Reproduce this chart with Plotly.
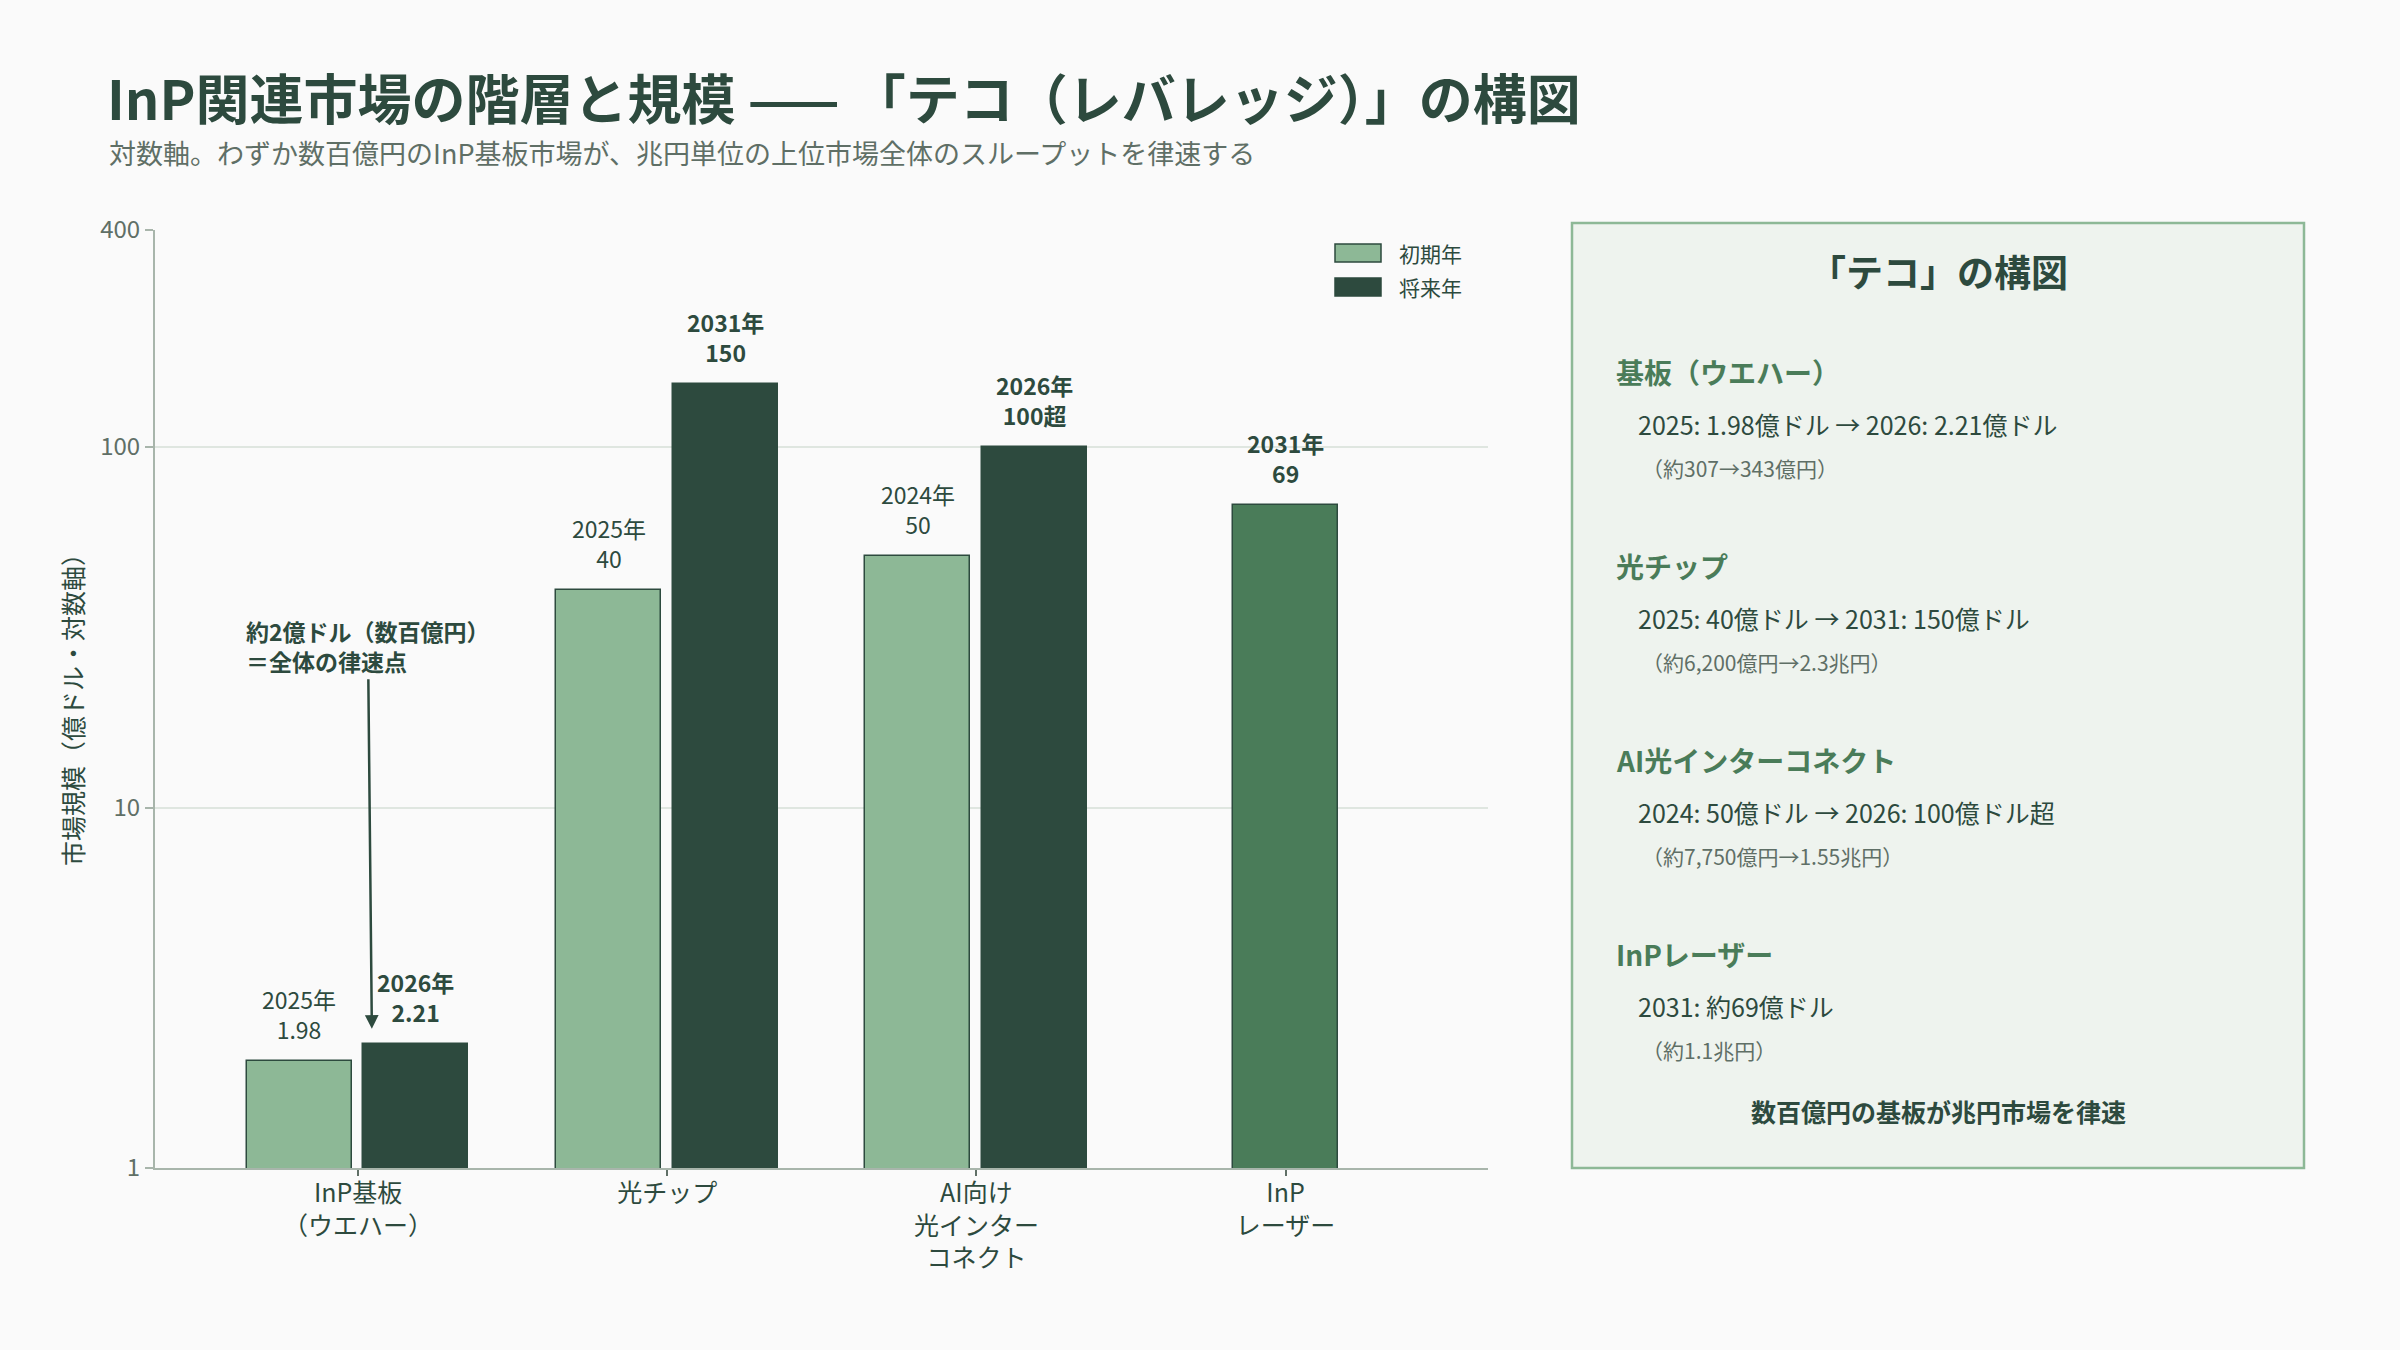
import math
import plotly.graph_objects as go

# ---------------- data ----------------
categories = ["InP基板<br>（ウエハー）", "光チップ", "AI向け<br>光インター<br>コネクト", "InP<br>レーザー"]
initial_values = [1.98, 40, 50, None]
future_values = [2.21, 150, 100, None]
laser_values = [None, None, None, 69]
initial_labels = ["2025年<br>1.98", "2025年<br>40", "2024年<br>50", None]
future_labels = ["2026年<br>2.21", "2031年<br>150", "2026年<br>100超", None]
laser_labels = [None, None, None, "2031年<br>69"]
y_tickvals = [1, 10, 100, 400]
y_ticktext = ["1", "10", "100", "400"]
legend_names = ["初期年", "将来年"]

panel_title = "「テコ」の構図"
panel_headers = ["基板（ウエハー）", "光チップ", "AI光インターコネクト", "InPレーザー"]
panel_details = [
    "2025: 1.98億ドル → 2026: 2.21億ドル",
    "2025: 40億ドル → 2031: 150億ドル",
    "2024: 50億ドル → 2026: 100億ドル超",
    "2031: 約69億ドル",
]
panel_notes = [
    "（約307→343億円）",
    "（約6,200億円→2.3兆円）",
    "（約7,750億円→1.55兆円）",
    "（約1.1兆円）",
]
panel_footer = "数百億円の基板が兆円市場を律速"

title_text = "InP関連市場の階層と規模 —— 「テコ（レバレッジ）」の構図"
subtitle_text = "対数軸。わずか数百億円のInP基板市場が、兆円単位の上位市場全体のスループットを律速する"
yaxis_title = "市場規模（億ドル・対数軸）"
callout_text = "約2億ドル（数百億円）<br>＝全体の律速点"

# ---------------- style ----------------
W, H = 2400, 1350
FONT = "Noto Sans CJK JP, Noto Sans, sans-serif"
DARK = "#2d4a3e"
LIGHT = "#8db896"
MID = "#4a7c59"
GRAY = "#5f6f66"
BG = "#fafafa"
PANEL_BG = "#eef3ee"


def px(x):
    return x / W


def py(y):
    return 1 - y / H


BAR_W = 0.34
OFF_INIT = -0.36
OFF_FUT = 0.017
OFF_LASER = -0.17

fig = go.Figure()
fig.add_trace(go.Bar(
    x=categories, y=initial_values, name=legend_names[0], showlegend=False,
    marker=dict(color=LIGHT, line=dict(color=DARK, width=1.5)),
    width=BAR_W, offset=OFF_INIT, hoverinfo="skip",
))
fig.add_trace(go.Bar(
    x=categories, y=future_values, name=legend_names[1], showlegend=False,
    marker=dict(color=DARK, line=dict(color=DARK, width=1.5)),
    width=BAR_W, offset=OFF_FUT, hoverinfo="skip",
))
fig.add_trace(go.Bar(
    x=categories, y=laser_values, name="InPレーザー", showlegend=False,
    marker=dict(color=MID, line=dict(color=DARK, width=1.5)),
    width=BAR_W, offset=OFF_LASER, hoverinfo="skip",
))

annotations = []
shapes = []


def bar_labels(values, labels, off, bold):
    for i, (v, t) in enumerate(zip(values, labels)):
        if v is None or t is None:
            continue
        txt = f"<b>{t}</b>" if bold else t
        annotations.append(dict(
            x=i + off + BAR_W / 2, y=math.log10(v), xref="x", yref="y",
            text=txt, showarrow=False, yanchor="bottom", yshift=13,
            font=dict(family=FONT, size=23, color=DARK), align="center",
        ))


bar_labels(initial_values, initial_labels, OFF_INIT, False)
bar_labels(future_values, future_labels, OFF_FUT, True)
bar_labels(laser_values, laser_labels, OFF_LASER, True)

# callout arrow to the substrate bar
annotations.append(dict(
    x=0.045, y=math.log10(future_values[0]), xref="x", yref="y",
    text=f"<b>{callout_text}</b>", showarrow=True, arrowhead=2, arrowsize=1.1,
    arrowwidth=2.5, arrowcolor=DARK, ax=-4, ay=-398, standoff=15,
    align="left", font=dict(family=FONT, size=23, color=DARK),
))

# custom legend (wide swatches)
legend_colors = [LIGHT, DARK]
for k, (nm, col) in enumerate(zip(legend_names, legend_colors)):
    yc = 253 + k * 34
    shapes.append(dict(
        type="rect", xref="paper", yref="paper",
        x0=px(1335), x1=px(1381), y0=py(yc + 9), y1=py(yc - 9),
        fillcolor=col, line=dict(color=DARK, width=1.5),
    ))
    annotations.append(dict(
        x=px(1397), y=py(yc), xref="paper", yref="paper", xanchor="left", yanchor="middle",
        text=nm, showarrow=False, font=dict(family=FONT, size=21, color=DARK),
    ))

# titles
annotations.append(dict(
    x=px(105), y=py(96), xref="paper", yref="paper", xanchor="left", yanchor="middle",
    text=f"<b>{title_text}</b>", showarrow=False,
    font=dict(family=FONT, size=54, color=DARK),
))
annotations.append(dict(
    x=px(107), y=py(153), xref="paper", yref="paper", xanchor="left", yanchor="middle",
    text=subtitle_text, showarrow=False,
    font=dict(family=FONT, size=27, color=GRAY),
))
annotations.append(dict(
    x=px(72), y=py(704), xref="paper", yref="paper", xanchor="center", yanchor="middle",
    text=yaxis_title, showarrow=False, textangle=-90,
    font=dict(family=FONT, size=25, color=DARK),
))

# right-hand panel
annotations.append(dict(
    x=px(1938), y=py(271), xref="paper", yref="paper", xanchor="center", yanchor="middle",
    text=f"<b>{panel_title}</b>", showarrow=False,
    font=dict(family=FONT, size=37, color=DARK),
))
sec_top = 372
sec_step = 194
for k, (h, d, n) in enumerate(zip(panel_headers, panel_details, panel_notes)):
    y0 = sec_top + k * sec_step
    annotations.append(dict(
        x=px(1614), y=py(y0), xref="paper", yref="paper", xanchor="left", yanchor="middle",
        text=f"<b>{h}</b>", showarrow=False,
        font=dict(family=FONT, size=28, color=MID),
    ))
    annotations.append(dict(
        x=px(1636), y=py(y0 + 52), xref="paper", yref="paper", xanchor="left", yanchor="middle",
        text=d, showarrow=False,
        font=dict(family=FONT, size=25, color=DARK),
    ))
    annotations.append(dict(
        x=px(1640), y=py(y0 + 96), xref="paper", yref="paper", xanchor="left", yanchor="middle",
        text=n, showarrow=False,
        font=dict(family=FONT, size=21, color=GRAY),
    ))
annotations.append(dict(
    x=px(1938), y=py(1111), xref="paper", yref="paper", xanchor="center", yanchor="middle",
    text=f"<b>{panel_footer}</b>", showarrow=False,
    font=dict(family=FONT, size=25, color=DARK),
))

shapes.insert(0, dict(
    type="rect", xref="paper", yref="paper",
    x0=px(1572), x1=px(2304), y0=py(1168), y1=py(223),
    fillcolor=PANEL_BG, line=dict(color=LIGHT, width=2.5), layer="below",
))

fig.update_layout(
    width=W, height=H, autosize=False,
    margin=dict(l=0, r=0, t=0, b=0),
    paper_bgcolor=BG, plot_bgcolor=BG,
    font=dict(family=FONT, color=DARK),
    barmode="overlay", bargap=0,
    showlegend=False,
    annotations=annotations,
    shapes=shapes,
    xaxis=dict(
        domain=[px(155), px(1488)], range=[-0.657, 3.655], type="category",
        showgrid=False, showline=True, linecolor="#a8b5ab", linewidth=2,
        ticks="outside", ticklen=6, tickcolor="#5f6f66", tickwidth=1.5,
        tickfont=dict(family=FONT, size=25, color=DARK), automargin=False,
        zeroline=False, ticklabelstandoff=-4,
    ),
    yaxis=dict(
        domain=[py(1168), py(230)], type="log", range=[0, math.log10(400)],
        tickvals=y_tickvals, ticktext=y_ticktext,
        showgrid=True, gridcolor="#dfe6e0", gridwidth=1.5,
        showline=True, linecolor="#a8b5ab", linewidth=2,
        ticks="outside", ticklen=8, tickcolor="#a8b5ab", tickwidth=1.5,
        tickfont=dict(family=FONT, size=24, color=GRAY), automargin=False,
        zeroline=False,
    ),
)

fig.write_html("out.html")
